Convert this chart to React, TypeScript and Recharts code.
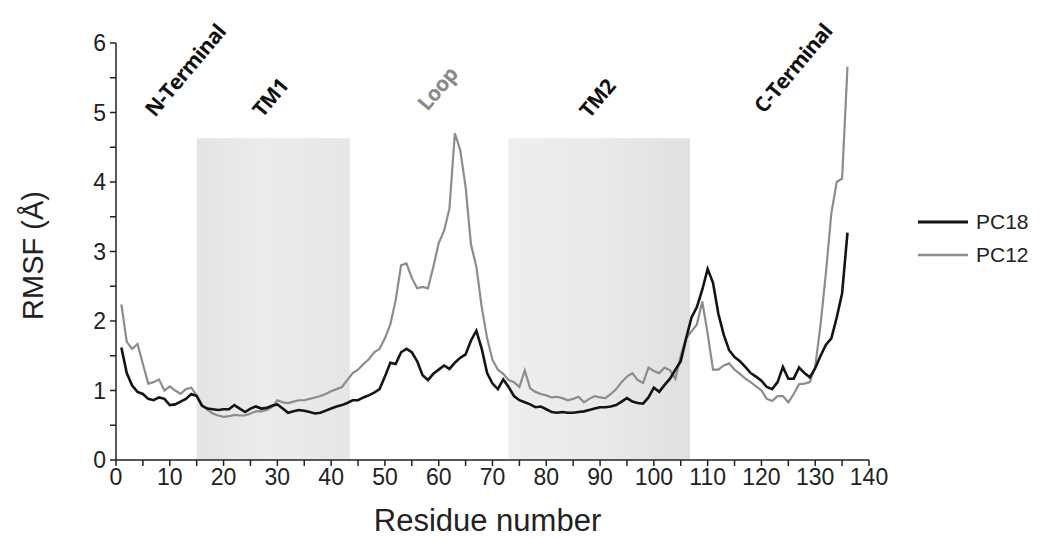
import { Line, LineChart, ReferenceArea, ReferenceDot, XAxis, YAxis } from "recharts";

// RMSF per residue (1..136)
const pc18 = [
	1.62, 1.25, 1.07, 0.98, 0.95, 0.88, 0.86, 0.9, 0.88, 0.79,
	0.8, 0.84, 0.88, 0.95, 0.92, 0.78, 0.74, 0.73, 0.72, 0.73,
	0.73, 0.79, 0.74, 0.69, 0.74, 0.77, 0.74, 0.75, 0.78, 0.8,
	0.74, 0.68, 0.7, 0.72, 0.71, 0.69, 0.67, 0.68, 0.71, 0.74,
	0.77, 0.79, 0.82, 0.86, 0.86, 0.9, 0.93, 0.97, 1.02, 1.2,
	1.4, 1.38, 1.55, 1.6, 1.55, 1.42, 1.22, 1.15, 1.24, 1.3,
	1.36, 1.31, 1.4, 1.47, 1.52, 1.72, 1.86, 1.6, 1.25, 1.1,
	1.02, 1.16, 1.05, 0.92, 0.86, 0.83, 0.8, 0.76, 0.77, 0.73,
	0.69, 0.68, 0.69, 0.68, 0.68, 0.69, 0.7, 0.72, 0.74, 0.76,
	0.76, 0.77, 0.79, 0.84, 0.89, 0.84, 0.82, 0.81, 0.9, 1.04,
	0.98, 1.08, 1.17, 1.3, 1.42, 1.75, 2.05, 2.2, 2.45, 2.75,
	2.55, 2.1, 1.8, 1.58, 1.48, 1.42, 1.34, 1.25, 1.2, 1.14,
	1.05, 1.02, 1.12, 1.34, 1.17, 1.17, 1.33, 1.25, 1.19, 1.32,
	1.5, 1.66, 1.75, 2.05, 2.4, 3.27,
];

const pc12 = [
	2.24, 1.7, 1.6, 1.67, 1.38, 1.1, 1.12, 1.16, 1.0, 1.06,
	1.0, 0.95, 1.02, 1.04, 0.93, 0.79, 0.72, 0.67, 0.64, 0.62,
	0.63, 0.65, 0.64, 0.64, 0.67, 0.7, 0.7, 0.72, 0.76, 0.86,
	0.83, 0.82, 0.84, 0.86, 0.86, 0.88, 0.9, 0.92, 0.95, 0.99,
	1.02, 1.05, 1.15, 1.25, 1.3, 1.38, 1.45, 1.55, 1.6, 1.75,
	1.95, 2.3, 2.8, 2.83, 2.62, 2.47, 2.49, 2.47, 2.78, 3.12,
	3.3, 3.62, 4.7, 4.46, 3.93, 3.1, 2.78, 2.2, 1.75, 1.44,
	1.3, 1.24, 1.15, 1.12, 1.05, 1.29, 1.03, 0.98, 0.95, 0.93,
	0.9, 0.91, 0.89, 0.86, 0.88, 0.91, 0.83, 0.88, 0.92, 0.9,
	0.89, 0.95, 1.02, 1.12, 1.2, 1.25, 1.15, 1.11, 1.33, 1.28,
	1.25, 1.33, 1.29, 1.17, 1.5, 1.75, 1.85, 1.95, 2.28, 1.82,
	1.3, 1.3, 1.36, 1.39, 1.3, 1.24, 1.17, 1.12, 1.06, 1.0,
	0.88, 0.85, 0.92, 0.92, 0.83, 0.95, 1.09, 1.1, 1.12, 1.34,
	1.95, 2.7, 3.55, 4.0, 4.05, 5.66,
];

// shaded transmembrane segments
const tmStart = [15, 73];
const tmEnd = [43.5, 106.7];
const tmTop = 4.63;

// region labels
const regionNames = ["N-Terminal", "TM1", "Loop", "TM2", "C-Terminal"];
const regionX = [12.8, 28.6, 59.7, 89.4, 125.8];
const regionY = [5.61, 5.22, 5.35, 5.21, 5.64];
const regionColors = ["#111", "#111", "#8a8a8a", "#111", "#111"];

const xTicks = [0, 5, 10, 15, 20, 25, 30, 35, 40, 45, 50, 55, 60, 65, 70, 75, 80, 85, 90, 95, 100, 105, 110, 115, 120, 125, 130, 135, 140];
const yTicks = [0, 0.5, 1, 1.5, 2, 2.5, 3, 3.5, 4, 4.5, 5, 5.5, 6];

const seriesNames = ["PC18", "PC12"];
const seriesColors = ["#141414", "#8c8c8c"];

const data = pc18.map((v, i) => ({ residue: i + 1, PC18: v, PC12: pc12[i] }));

const font = "'Liberation Sans', Arial, sans-serif";

const LegendBox = () => (
	<div style={{ position: "absolute", left: 910, top: 197, fontFamily: font, fontSize: 21, color: "#222" }}>
		{seriesNames.map((name, i) => (
			<div key={name} style={{ display: "flex", alignItems: "center", height: 33 }}>
				<svg width={50} height={4}>
					<line x1={0} y1={2} x2={50} y2={2} stroke={seriesColors[i]} strokeWidth={i === 0 ? 3 : 2.5} />
				</svg>
				<span style={{ marginLeft: 8 }}>{name}</span>
			</div>
		))}
	</div>
);

const regionLabel = (i: number) => (props: any) => (
	<text
		x={props.cx}
		y={props.cy}
		transform={`rotate(-50 ${props.cx} ${props.cy})`}
		textAnchor="middle"
		dominantBaseline="central"
		fontFamily="'Open Sans', sans-serif"
		fontWeight={700}
		fontSize={21}
		letterSpacing={-0.6}
		fill={regionColors[i]}
	>
		{regionNames[i]}
	</text>
);

const App = () => {
	return (
		<div style={{ position: "relative", width: 1035, height: 530 }}>
			<LineChart width={1035} height={530} data={data} margin={{ top: 35, right: 174, left: 0, bottom: 0 }}>
				<defs>
					<linearGradient id="tm1" x1="0" y1="0" x2="1" y2="0">
						<stop offset="0%" stopColor="#e4e4e4" />
						<stop offset="45%" stopColor="#ececec" />
						<stop offset="100%" stopColor="#e6e6e6" />
					</linearGradient>
					<linearGradient id="tm2" x1="0" y1="0" x2="1" y2="0">
						<stop offset="0%" stopColor="#eeeeee" />
						<stop offset="50%" stopColor="#eaeaea" />
						<stop offset="100%" stopColor="#e0e0e0" />
					</linearGradient>
				</defs>
				{tmStart.map((s, i) => (
					<ReferenceArea key={s} x1={s} x2={tmEnd[i]} y1={0} y2={tmTop} fill={`url(#tm${i + 1})`} fillOpacity={1} stroke="none" />
				))}
				<XAxis
					dataKey="residue"
					type="number"
					domain={[0, 140]}
					ticks={xTicks}
					interval={0}
					tickFormatter={(v) => (v % 10 === 0 ? String(v) : "")}
					height={78}
					tickSize={6}
					tickMargin={3}
					stroke="#222"
					strokeWidth={1.5}
					tick={{ fill: "#222", fontSize: 23, fontFamily: font }}
					label={(p: any) => (
						<text x={p.viewBox.x + p.viewBox.width / 2 - 5} y={p.viewBox.y + 71} textAnchor="middle" fontSize={31} fontFamily={font} fill="#222">
							Residue number
						</text>
					)}
				/>
				<YAxis
					type="number"
					domain={[0, 6]}
					ticks={yTicks}
					interval={0}
					tickFormatter={(v) => (Number.isInteger(v) ? String(v) : "")}
					width={108}
					tickSize={6}
					tickMargin={4}
					stroke="#222"
					strokeWidth={1.5}
					tick={{ fill: "#222", fontSize: 23, fontFamily: font }}
					label={(p: any) => {
						const cx = 25;
						const cy = p.viewBox.y + p.viewBox.height / 2 + 4;
						return (
							<text x={cx} y={cy} transform={`rotate(-90 ${cx} ${cy})`} textAnchor="middle" dominantBaseline="central" fontSize={29} fontFamily={font} fill="#222">
								RMSF (Å)
							</text>
						);
					}}
				/>
				<Line type="linear" dataKey="PC12" stroke={seriesColors[1]} strokeWidth={2.2} dot={false} isAnimationActive={false} />
				<Line type="linear" dataKey="PC18" stroke={seriesColors[0]} strokeWidth={2.6} dot={false} isAnimationActive={false} />
				{regionNames.map((n, i) => (
					<ReferenceDot key={n} x={regionX[i]} y={regionY[i]} r={0} shape={regionLabel(i)} />
				))}
			</LineChart>
			<LegendBox />
		</div>
	);
};

export default App;
